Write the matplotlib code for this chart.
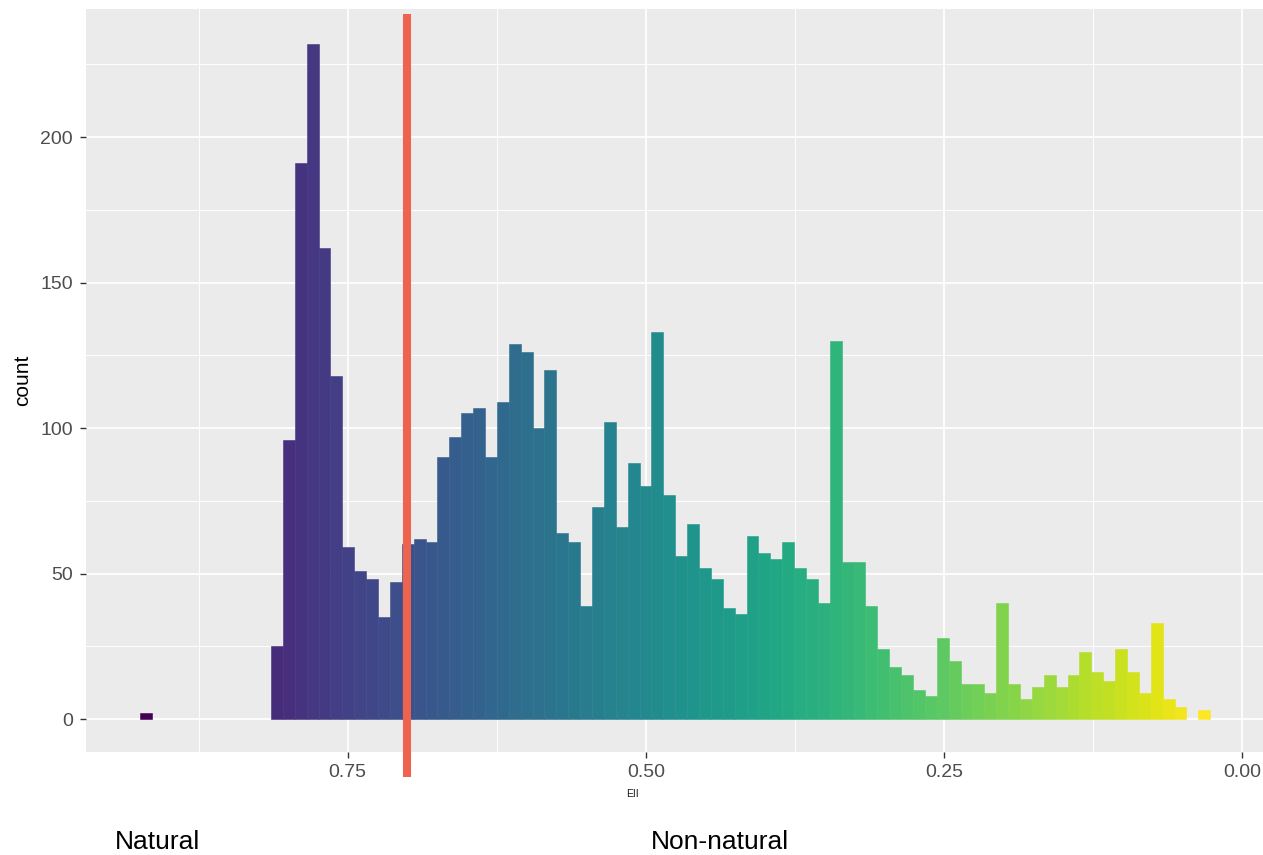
import numpy as np
import matplotlib
matplotlib.use("Agg")
import matplotlib.pyplot as plt
from matplotlib.ticker import MultipleLocator, FixedLocator

plt.rcParams['font.family'] = ['Liberation Sans', 'DejaVu Sans']

# histogram of EII, bins (left = high EII)
bin_hi = 0.924
bin_lo = 0.027
counts = [2, 0, 0, 0, 0, 0, 0, 0, 0, 0,
          0, 25, 96, 191, 232, 162, 118, 59, 51, 48,
          35, 47, 60, 62, 61, 90, 97, 105, 107, 90,
          109, 129, 126, 100, 120, 64, 61, 39, 73, 102,
          66, 88, 80, 133, 77, 56, 67, 52, 48, 38,
          36, 63, 57, 55, 61, 52, 48, 40, 130, 54,
          54, 39, 24, 18, 15, 10, 8, 28, 20, 12,
          12, 9, 40, 12, 7, 11, 15, 11, 15, 23,
          16, 13, 24, 16, 9, 33, 7, 4, 0, 3]
threshold = 0.70
x_ticks = [0.75, 0.50, 0.25, 0.00]
x_labels = ["0.75", "0.50", "0.25", "0.00"]
y_ticks = [0, 50, 100, 150, 200]
group_labels = ["Natural", "Non-natural"]

counts = np.array(counts)
n_bins = len(counts)
edges = np.linspace(bin_hi, bin_lo, n_bins + 1)
centers = (edges[:-1] + edges[1:]) / 2
binw = abs(edges[1] - edges[0])
colors = plt.cm.viridis(np.linspace(0, 1, n_bins))
filled = counts > 0

fig = plt.figure(figsize=(12.63, 8.55), dpi=100)
ax = fig.add_axes([86 / 1263, 103 / 855, 1177 / 1263, 743 / 855])
ax.set_facecolor('#EBEBEB')
for s in ax.spines.values():
    s.set_visible(False)

ax.bar(centers[filled], counts[filled], width=binw, color=colors[filled],
       edgecolor=colors[filled], linewidth=0.4, zorder=3)

ax.set_xlim(0.9694, -0.0172)
ax.set_ylim(-11.34, 244)

ax.xaxis.set_major_locator(FixedLocator(x_ticks))
ax.set_xticklabels(x_labels)
ax.xaxis.set_minor_locator(FixedLocator([0.875, 0.625, 0.375, 0.125]))
ax.yaxis.set_major_locator(FixedLocator(y_ticks))
ax.yaxis.set_minor_locator(MultipleLocator(50, offset=25))

ax.grid(which='major', color='white', linewidth=1.25, zorder=0)
ax.grid(which='minor', color='white', linewidth=0.65, zorder=0)
ax.set_axisbelow(True)

ax.tick_params(which='major', length=4.3, width=1.0, color='#333333',
               labelcolor='#4D4D4D', labelsize=14)
ax.tick_params(axis='x', pad=4)
ax.tick_params(axis='y', pad=5)
ax.tick_params(which='minor', length=0)

ax.set_ylabel('count', fontsize=15, color='black')
ax.yaxis.set_label_coords(-54 / 1177, 0.5)

# threshold line, runs past the panel bottom like in the original
ax.plot([threshold, threshold], [242.3, -19.9], color='#EE634D', linewidth=5.8,
        solid_capstyle='butt', clip_on=False, zorder=5)

fig.text(632 / 1263, (855 - 797) / 855, 'EII', fontsize=7.5, color='#1A1A1A',
         ha='center', va='baseline')
fig.text(115 / 1263, (855 - 849) / 855, group_labels[0], fontsize=19,
         color='black', ha='left', va='baseline')
fig.text(651 / 1263, (855 - 849) / 855, group_labels[1], fontsize=19,
         color='black', ha='left', va='baseline')

fig.savefig('out.png', dpi=100)
